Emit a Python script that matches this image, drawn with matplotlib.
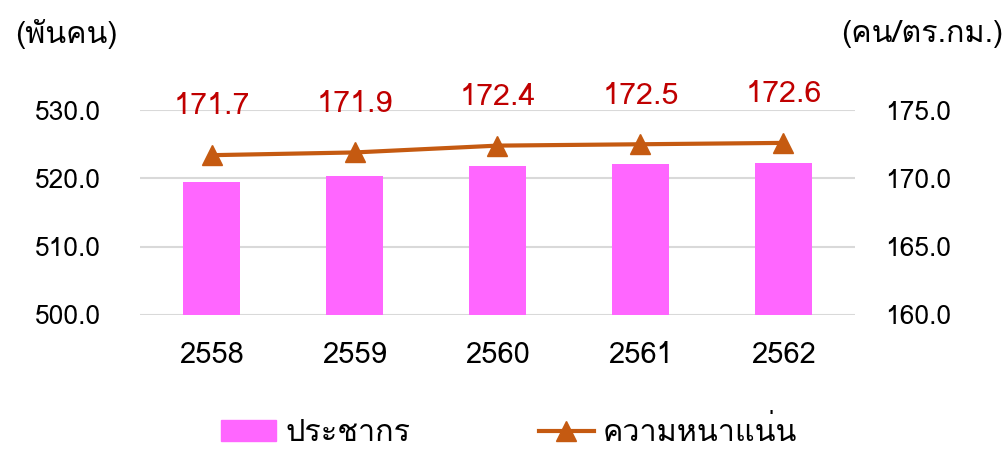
import matplotlib
matplotlib.use("Agg")
import matplotlib.pyplot as plt
from matplotlib import font_manager
from matplotlib.ft2font import FT2Font
from matplotlib.lines import Line2D
from matplotlib.patches import Patch

# ---- data ----
years = ["2558", "2559", "2560", "2561", "2562"]
population = [519.4, 520.3, 521.8, 522.1, 522.3]   # thousand persons
density = [171.7, 171.9, 172.4, 172.5, 172.6]      # persons / sq.km
density_labels = ["171.7", "171.9", "172.4", "172.5", "172.6"]

# ---- find a font with Thai glyphs ----
thai_font = None
for f in font_manager.fontManager.ttflist:
    try:
        cm = FT2Font(f.fname).get_charmap()
        if 0x0E1E in cm and 0x0E19 in cm:
            thai_font = f.name
            break
    except Exception:
        pass
families = ([thai_font] if thai_font else []) + ["DejaVu Sans"]
plt.rcParams["font.family"] = families

fig = plt.figure(figsize=(10.08, 4.57), dpi=100)
ax = fig.add_axes([0.139, 0.311, 0.709, 0.448])
ax2 = ax.twinx()

x = list(range(len(years)))
ax.bar(x, population, width=0.4, color="#FF66FF", zorder=2)
ax.set_ylim(500, 530)
ax.set_yticks([500, 510, 520, 530])
ax.set_yticklabels([f"{v:.1f}" for v in [500, 510, 520, 530]])
ax.set_xlim(-0.5, len(years) - 0.5)
ax.set_xticks(x)
ax.set_xticklabels(years)
ax.grid(axis="y", color="#D9D9D9", linewidth=1.5, zorder=0)
ax.set_axisbelow(True)

ax2.plot(x, density, color="#C55A11", linewidth=3, marker="^", markersize=14, zorder=3)
ax2.set_ylim(160, 175)
ax2.set_yticks([160, 165, 170, 175])
ax2.set_yticklabels([f"{v:.1f}" for v in [160, 165, 170, 175]])
for xi, d, lab in zip(x, density, density_labels):
    ax2.annotate(lab, (xi, d), xytext=(0, 25), textcoords="offset points",
                 ha="center", va="bottom", color="#C00000", fontsize=22)

for a in (ax, ax2):
    for s in a.spines.values():
        s.set_visible(False)
    a.tick_params(length=0, labelsize=19, colors="black")
ax.tick_params(axis="y", pad=28)
ax2.tick_params(axis="y", pad=22)
ax.tick_params(axis="x", pad=19, labelsize=21)

fig.text(0.015, 0.925, "(พันคน)", fontsize=22, ha="left", va="center")
fig.text(0.995, 0.925, "(คน/ตร.กม.)", fontsize=22, ha="right", va="center")

handles = [Patch(color="#FF66FF"),
           Line2D([0], [0], color="#C55A11", linewidth=3, marker="^", markersize=14)]
fig.legend(handles, ["ประชากร", "ความหนาแน่น"], loc="center", bbox_to_anchor=(0.505, 0.055),
           ncol=2, frameon=False, fontsize=22, columnspacing=4.2, handlelength=1.8,
           handletextpad=0.3)

fig.savefig("out.png", dpi=100)
